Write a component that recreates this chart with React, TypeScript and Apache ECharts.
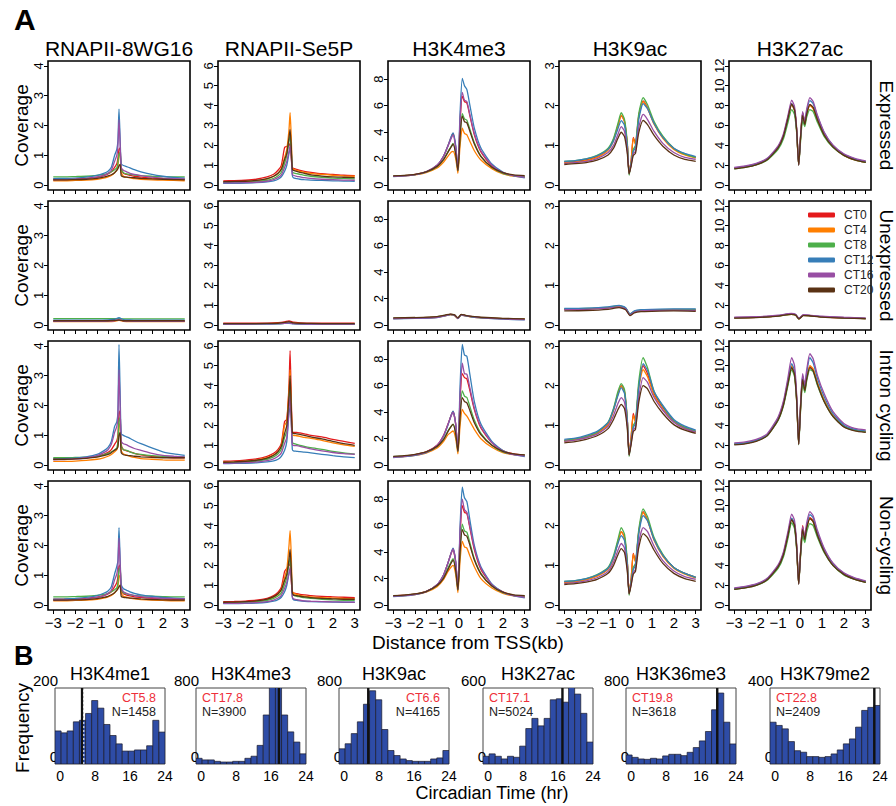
import React, { useEffect, useRef } from 'react';
import * as echarts from 'echarts';

// ---------------- Panel A data ----------------
const CT_NAMES = ['CT0', 'CT4', 'CT8', 'CT12', 'CT16', 'CT20'];
const CT_COLORS = ['#E41A1C', '#FF7F00', '#4DAF4A', '#377EB8', '#984EA3', '#5A3214'];
const MARKS = ['RNAPII-8WG16', 'RNAPII-Se5P', 'H3K4me3', 'H3K9ac', 'H3K27ac'];
const GROUPS = ['Expressed', 'Unexpressed', 'Intron cycling', 'Non-cycling'];
const Y_MAX = [4, 6, 9, 3, 12];
const Y_TICKS = [[0, 1, 2, 3, 4], [0, 1, 2, 3, 4, 5, 6], [0, 2, 4, 6, 8], [0, 1, 2, 3], [0, 2, 4, 6, 8, 10, 12]];
const X_TICKS = [-3, -2.5, -2, -1.5, -1, -0.5, 0, 0.5, 1, 1.5, 2, 2.5, 3];
const X_LABELS = [-3, -2, -1, 0, 1, 2, 3];

// distance from TSS (kb) sample positions
const X_8WG16 = [-3, -2.5, -2, -1.5, -1, -0.7, -0.5, -0.35, -0.2, -0.1, -0.05, 0, 0.05, 0.1, 0.2, 0.35, 0.5, 0.7, 1, 1.5, 2, 2.5, 3];
const X_SE5P = [-3, -2.5, -2, -1.5, -1, -0.7, -0.5, -0.35, -0.2, -0.1, 0, 0.05, 0.1, 0.15, 0.2, 0.35, 0.5, 0.7, 1, 1.5, 2, 2.5, 3];
const X_K4ME3 = [-3, -2.5, -2, -1.5, -1, -0.7, -0.5, -0.35, -0.27, -0.15, -0.05, 0.05, 0.15, 0.25, 0.36, 0.5, 0.7, 1, 1.5, 2, 2.5, 3];
const X_K9AC = [-3, -2.5, -2, -1.5, -1, -0.75, -0.55, -0.4, -0.25, -0.12, -0.04, 0.05, 0.15, 0.25, 0.4, 0.6, 0.8, 1.1, 1.5, 2, 2.5, 3];
const X_K27AC = [-3, -2.5, -2, -1.5, -1, -0.75, -0.55, -0.38, -0.25, -0.15, -0.06, 0.03, 0.12, 0.22, 0.3, 0.45, 0.6, 0.8, 1.1, 1.5, 2, 2.5, 3];
const X_FLAT = [-3, -2, -1, -0.5, -0.2, 0, 0.2, 0.5, 1, 2, 3];
const X_K4ME3_FLAT = [-3, -2, -1, -0.6, -0.4, -0.2, -0.05, 0.1, 0.3, 0.6, 1, 2, 3];
const X_K27AC_FLAT = [-3, -2, -1, -0.4, -0.2, -0.05, 0.15, 0.4, 1, 2, 3];

// RNAPII-8WG16
const W8_EXPRESSED = [
  [0.2, 0.2, 0.21, 0.23, 0.27, 0.32, 0.38, 0.45, 0.6, 0.72, 0.9, 1.2, 1.25, 0.6, 0.4, 0.36, 0.33, 0.3, 0.27, 0.24, 0.22, 0.21, 0.2],
  [0.15, 0.15, 0.16, 0.17, 0.2, 0.24, 0.28, 0.33, 0.42, 0.5, 0.65, 1.0, 1.05, 0.45, 0.3, 0.27, 0.25, 0.22, 0.2, 0.18, 0.17, 0.16, 0.15],
  [0.28, 0.28, 0.29, 0.3, 0.33, 0.36, 0.4, 0.45, 0.52, 0.58, 0.75, 1.05, 1.1, 0.55, 0.42, 0.38, 0.36, 0.34, 0.32, 0.3, 0.29, 0.28, 0.28],
  [0.22, 0.23, 0.24, 0.27, 0.33, 0.4, 0.47, 0.6, 1.0, 1.2, 1.5, 2.55, 1.6, 0.72, 0.66, 0.62, 0.58, 0.52, 0.45, 0.36, 0.3, 0.26, 0.24],
  [0.18, 0.19, 0.2, 0.22, 0.27, 0.33, 0.4, 0.5, 0.8, 1.0, 1.3, 2.2, 1.4, 0.6, 0.5, 0.45, 0.4, 0.36, 0.32, 0.27, 0.24, 0.22, 0.2],
  [0.18, 0.18, 0.19, 0.2, 0.23, 0.27, 0.31, 0.35, 0.42, 0.5, 0.55, 0.65, 0.7, 0.32, 0.28, 0.27, 0.26, 0.25, 0.23, 0.21, 0.2, 0.19, 0.18],
];
const W8_UNEXPRESSED = [
  [0.14, 0.14, 0.14, 0.15, 0.16, 0.18, 0.15, 0.14, 0.14, 0.14, 0.14],
  [0.12, 0.12, 0.12, 0.12, 0.13, 0.16, 0.13, 0.12, 0.12, 0.12, 0.12],
  [0.22, 0.22, 0.22, 0.22, 0.22, 0.22, 0.21, 0.21, 0.21, 0.21, 0.21],
  [0.17, 0.17, 0.17, 0.18, 0.2, 0.25, 0.19, 0.18, 0.17, 0.17, 0.17],
  [0.13, 0.13, 0.13, 0.14, 0.15, 0.18, 0.15, 0.14, 0.13, 0.13, 0.13],
  [0.15, 0.15, 0.15, 0.15, 0.16, 0.17, 0.15, 0.15, 0.15, 0.15, 0.15],
];
const W8_INTRON = [
  [0.2, 0.2, 0.22, 0.25, 0.3, 0.36, 0.43, 0.52, 0.7, 0.82, 1.0, 1.75, 1.82, 0.7, 0.52, 0.48, 0.45, 0.4, 0.35, 0.3, 0.27, 0.25, 0.25],
  [0.13, 0.13, 0.14, 0.16, 0.2, 0.25, 0.3, 0.36, 0.45, 0.52, 0.65, 1.3, 1.4, 0.5, 0.38, 0.34, 0.3, 0.26, 0.22, 0.2, 0.18, 0.17, 0.17],
  [0.25, 0.25, 0.26, 0.27, 0.3, 0.35, 0.4, 0.45, 0.52, 0.58, 0.8, 1.5, 1.6, 0.65, 0.52, 0.5, 0.45, 0.4, 0.36, 0.32, 0.3, 0.28, 0.28],
  [0.2, 0.22, 0.24, 0.28, 0.36, 0.48, 0.6, 0.8, 1.3, 1.45, 1.8, 4.05, 2.5, 1.05, 1.0, 0.95, 0.9, 0.82, 0.72, 0.58, 0.45, 0.38, 0.33],
  [0.18, 0.19, 0.21, 0.25, 0.32, 0.42, 0.52, 0.7, 1.1, 1.3, 1.6, 3.2, 2.0, 0.8, 0.72, 0.68, 0.62, 0.56, 0.5, 0.4, 0.33, 0.3, 0.28],
  [0.2, 0.2, 0.21, 0.23, 0.27, 0.32, 0.36, 0.42, 0.5, 0.55, 0.62, 1.0, 1.1, 0.42, 0.35, 0.33, 0.32, 0.3, 0.28, 0.26, 0.25, 0.25, 0.25],
];
const W8_NONCYC = [
  [0.2, 0.2, 0.21, 0.23, 0.27, 0.32, 0.38, 0.45, 0.62, 0.75, 0.95, 1.3, 1.35, 0.55, 0.38, 0.34, 0.31, 0.28, 0.26, 0.23, 0.21, 0.2, 0.2],
  [0.15, 0.15, 0.16, 0.17, 0.2, 0.24, 0.28, 0.33, 0.42, 0.5, 0.62, 0.95, 1.0, 0.42, 0.3, 0.27, 0.24, 0.21, 0.19, 0.17, 0.16, 0.15, 0.15],
  [0.28, 0.28, 0.29, 0.3, 0.33, 0.36, 0.4, 0.45, 0.52, 0.58, 0.75, 1.2, 1.26, 0.55, 0.42, 0.38, 0.35, 0.33, 0.31, 0.3, 0.29, 0.28, 0.28],
  [0.2, 0.21, 0.23, 0.26, 0.32, 0.4, 0.48, 0.62, 1.05, 1.3, 1.5, 2.6, 1.6, 0.7, 0.55, 0.5, 0.45, 0.4, 0.35, 0.3, 0.26, 0.24, 0.22],
  [0.17, 0.18, 0.19, 0.21, 0.26, 0.32, 0.4, 0.5, 0.85, 1.05, 1.3, 2.25, 1.4, 0.6, 0.45, 0.4, 0.36, 0.32, 0.29, 0.25, 0.23, 0.22, 0.21],
  [0.17, 0.17, 0.18, 0.19, 0.22, 0.26, 0.3, 0.35, 0.42, 0.5, 0.55, 0.62, 0.67, 0.3, 0.26, 0.25, 0.24, 0.23, 0.21, 0.19, 0.18, 0.17, 0.17],
];

// RNAPII-Se5P
const S5_EXPRESSED = [
  [0.22, 0.23, 0.25, 0.3, 0.42, 0.55, 0.75, 1.0, 1.9, 1.95, 2.0, 2.1, 1.4, 0.9, 0.85, 0.8, 0.75, 0.7, 0.65, 0.58, 0.54, 0.5, 0.48],
  [0.15, 0.16, 0.18, 0.22, 0.32, 0.45, 0.6, 0.85, 1.4, 1.8, 2.8, 3.65, 2.5, 0.9, 0.8, 0.75, 0.7, 0.65, 0.6, 0.54, 0.5, 0.47, 0.45],
  [0.13, 0.14, 0.15, 0.18, 0.25, 0.35, 0.48, 0.65, 1.1, 1.5, 2.2, 2.5, 1.7, 0.7, 0.62, 0.58, 0.55, 0.5, 0.45, 0.4, 0.36, 0.34, 0.32],
  [0.1, 0.1, 0.11, 0.13, 0.17, 0.22, 0.3, 0.42, 0.7, 1.0, 1.6, 1.8, 1.8, 0.5, 0.38, 0.33, 0.3, 0.28, 0.26, 0.24, 0.22, 0.21, 0.2],
  [0.12, 0.12, 0.13, 0.15, 0.2, 0.28, 0.38, 0.52, 0.9, 1.2, 1.7, 2.0, 1.5, 0.55, 0.5, 0.45, 0.42, 0.38, 0.34, 0.3, 0.28, 0.26, 0.25],
  [0.18, 0.19, 0.2, 0.24, 0.33, 0.45, 0.6, 0.8, 1.3, 1.6, 2.4, 2.8, 2.0, 0.8, 0.75, 0.7, 0.65, 0.6, 0.52, 0.46, 0.42, 0.4, 0.38],
];
const S5_UNEXPRESSED = [
  [0.1, 0.1, 0.11, 0.13, 0.17, 0.22, 0.15, 0.12, 0.1, 0.1, 0.1],
  [0.07, 0.07, 0.08, 0.09, 0.11, 0.14, 0.1, 0.08, 0.07, 0.07, 0.07],
  [0.06, 0.06, 0.07, 0.08, 0.1, 0.12, 0.09, 0.07, 0.06, 0.06, 0.06],
  [0.05, 0.05, 0.06, 0.07, 0.09, 0.1, 0.07, 0.06, 0.05, 0.05, 0.05],
  [0.06, 0.06, 0.07, 0.08, 0.1, 0.12, 0.08, 0.07, 0.06, 0.06, 0.06],
  [0.08, 0.08, 0.09, 0.1, 0.14, 0.18, 0.12, 0.1, 0.09, 0.08, 0.08],
];
const S5_INTRON = [
  [0.2, 0.22, 0.26, 0.32, 0.45, 0.6, 0.8, 1.1, 2.2, 2.3, 4.0, 5.75, 3.5, 1.7, 1.65, 1.65, 1.62, 1.58, 1.5, 1.42, 1.3, 1.2, 1.1],
  [0.15, 0.17, 0.2, 0.26, 0.38, 0.52, 0.7, 1.0, 2.0, 2.2, 3.8, 4.8, 3.0, 1.55, 1.5, 1.48, 1.45, 1.4, 1.35, 1.25, 1.12, 1.02, 0.95],
  [0.12, 0.14, 0.16, 0.2, 0.3, 0.42, 0.58, 0.8, 1.4, 1.7, 3.2, 4.0, 2.5, 1.15, 1.1, 1.05, 1.0, 0.95, 0.88, 0.8, 0.7, 0.62, 0.56],
  [0.08, 0.09, 0.1, 0.12, 0.17, 0.22, 0.3, 0.45, 0.75, 1.2, 2.6, 2.9, 2.6, 0.8, 0.72, 0.7, 0.68, 0.66, 0.62, 0.55, 0.48, 0.42, 0.38],
  [0.1, 0.11, 0.13, 0.16, 0.23, 0.32, 0.45, 0.62, 1.1, 1.4, 2.8, 3.5, 2.2, 1.05, 1.0, 0.98, 0.95, 0.9, 0.82, 0.72, 0.64, 0.58, 0.55],
  [0.15, 0.17, 0.2, 0.25, 0.36, 0.5, 0.68, 0.95, 1.6, 2.0, 3.5, 4.5, 3.0, 1.65, 1.6, 1.58, 1.55, 1.5, 1.42, 1.32, 1.2, 1.08, 1.0],
];
const S5_NONCYC = [
  [0.18, 0.19, 0.21, 0.25, 0.35, 0.48, 0.65, 0.9, 1.7, 1.85, 2.0, 2.1, 1.3, 0.7, 0.62, 0.58, 0.55, 0.52, 0.48, 0.44, 0.42, 0.4, 0.38],
  [0.12, 0.13, 0.15, 0.19, 0.28, 0.4, 0.55, 0.8, 1.4, 1.8, 3.0, 3.75, 2.6, 0.75, 0.6, 0.55, 0.5, 0.46, 0.42, 0.38, 0.36, 0.34, 0.33],
  [0.12, 0.13, 0.14, 0.17, 0.24, 0.34, 0.46, 0.62, 1.05, 1.4, 2.1, 2.4, 1.6, 0.6, 0.5, 0.45, 0.42, 0.38, 0.34, 0.3, 0.27, 0.25, 0.24],
  [0.08, 0.08, 0.09, 0.11, 0.15, 0.2, 0.28, 0.4, 0.68, 1.0, 1.6, 1.8, 1.75, 0.4, 0.28, 0.24, 0.22, 0.2, 0.18, 0.17, 0.16, 0.15, 0.15],
  [0.1, 0.1, 0.11, 0.13, 0.18, 0.26, 0.36, 0.5, 0.85, 1.15, 1.6, 1.9, 1.4, 0.45, 0.32, 0.28, 0.25, 0.22, 0.2, 0.18, 0.17, 0.16, 0.15],
  [0.15, 0.16, 0.18, 0.22, 0.31, 0.43, 0.58, 0.78, 1.25, 1.55, 2.3, 2.8, 1.9, 0.65, 0.52, 0.48, 0.45, 0.42, 0.38, 0.34, 0.32, 0.3, 0.3],
];

// H3K4me3
const K4_EXPRESSED = [
  [0.68, 0.72, 0.82, 1.0, 1.5, 2.2, 3.0, 3.65, 3.9, 2.9, 1.2, 4.8, 6.7, 6.3, 6.2, 5.2, 3.8, 2.5, 1.45, 0.95, 0.72, 0.62],
  [0.66, 0.7, 0.78, 0.95, 1.3, 1.75, 2.2, 2.5, 2.55, 2.0, 0.9, 3.0, 4.3, 3.9, 3.8, 3.3, 2.6, 1.9, 1.25, 0.85, 0.68, 0.6],
  [0.68, 0.72, 0.8, 0.98, 1.4, 1.95, 2.55, 2.95, 3.15, 2.4, 1.1, 3.8, 5.4, 5.0, 4.9, 4.2, 3.2, 2.2, 1.35, 0.9, 0.72, 0.65],
  [0.65, 0.7, 0.8, 1.0, 1.5, 2.2, 3.0, 3.7, 3.95, 3.0, 1.2, 5.5, 8.05, 7.5, 7.2, 6.0, 4.3, 2.8, 1.6, 1.0, 0.7, 0.55],
  [0.66, 0.7, 0.8, 1.0, 1.5, 2.2, 2.95, 3.55, 3.75, 2.8, 1.15, 5.0, 7.0, 6.4, 6.3, 5.3, 3.9, 2.6, 1.5, 0.95, 0.72, 0.6],
  [0.7, 0.74, 0.82, 1.0, 1.42, 1.95, 2.5, 2.9, 3.1, 2.35, 1.1, 3.7, 5.2, 4.8, 4.7, 4.05, 3.1, 2.15, 1.35, 0.95, 0.78, 0.72],
];
const K4_UNEXPRESSED = [
  [0.52, 0.55, 0.62, 0.75, 0.82, 0.75, 0.52, 0.8, 0.72, 0.65, 0.58, 0.5, 0.46],
  [0.5, 0.53, 0.6, 0.72, 0.78, 0.72, 0.5, 0.76, 0.7, 0.62, 0.56, 0.49, 0.45],
  [0.53, 0.56, 0.63, 0.76, 0.82, 0.76, 0.53, 0.8, 0.73, 0.65, 0.58, 0.5, 0.46],
  [0.48, 0.51, 0.58, 0.72, 0.8, 0.74, 0.5, 0.78, 0.7, 0.62, 0.55, 0.46, 0.4],
  [0.5, 0.53, 0.6, 0.74, 0.82, 0.76, 0.52, 0.8, 0.72, 0.64, 0.57, 0.48, 0.42],
  [0.55, 0.58, 0.65, 0.78, 0.84, 0.78, 0.55, 0.82, 0.75, 0.67, 0.6, 0.52, 0.48],
];
const K4_INTRON = [
  [0.62, 0.68, 0.8, 1.0, 1.5, 2.25, 3.1, 3.8, 4.05, 3.1, 1.1, 5.0, 6.9, 6.6, 6.5, 5.6, 4.2, 2.8, 1.7, 1.1, 0.85, 0.75],
  [0.6, 0.65, 0.75, 0.92, 1.3, 1.8, 2.3, 2.5, 2.58, 2.0, 0.85, 3.0, 4.2, 3.9, 3.7, 3.3, 2.7, 2.0, 1.35, 0.95, 0.8, 0.72],
  [0.64, 0.7, 0.8, 0.98, 1.42, 1.95, 2.6, 2.95, 3.1, 2.4, 1.05, 4.0, 5.6, 5.2, 5.1, 4.4, 3.4, 2.4, 1.5, 1.0, 0.82, 0.75],
  [0.58, 0.64, 0.75, 0.95, 1.45, 2.2, 3.05, 3.8, 4.08, 3.1, 1.15, 6.0, 9.1, 8.3, 8.2, 6.8, 4.8, 3.1, 1.8, 1.1, 0.8, 0.65],
  [0.6, 0.66, 0.78, 0.98, 1.5, 2.25, 3.1, 3.75, 4.0, 3.05, 1.1, 5.3, 7.7, 6.9, 6.85, 5.8, 4.3, 2.9, 1.7, 1.05, 0.8, 0.7],
  [0.66, 0.72, 0.82, 1.0, 1.42, 1.95, 2.55, 2.95, 3.08, 2.35, 1.05, 3.7, 5.1, 4.8, 4.7, 4.1, 3.2, 2.3, 1.5, 1.05, 0.85, 0.78],
];
const K4_NONCYC = [
  [0.7, 0.75, 0.85, 1.05, 1.55, 2.3, 3.2, 3.95, 4.2, 3.2, 1.2, 5.3, 7.5, 7.0, 6.9, 5.8, 4.2, 2.7, 1.55, 1.0, 0.75, 0.65],
  [0.68, 0.72, 0.8, 0.98, 1.4, 1.95, 2.55, 2.9, 3.0, 2.3, 0.95, 3.4, 4.8, 4.4, 4.3, 3.7, 2.9, 2.0, 1.3, 0.9, 0.7, 0.62],
  [0.7, 0.74, 0.83, 1.02, 1.48, 2.1, 2.8, 3.3, 3.5, 2.7, 1.15, 4.3, 6.1, 5.6, 5.5, 4.7, 3.5, 2.4, 1.45, 0.95, 0.75, 0.68],
  [0.65, 0.7, 0.8, 1.02, 1.55, 2.3, 3.2, 4.0, 4.3, 3.3, 1.25, 6.0, 8.9, 8.1, 7.8, 6.4, 4.5, 2.9, 1.6, 1.0, 0.7, 0.55],
  [0.68, 0.72, 0.82, 1.03, 1.55, 2.3, 3.2, 3.95, 4.25, 3.25, 1.2, 5.6, 8.0, 7.2, 7.0, 5.9, 4.3, 2.8, 1.55, 0.98, 0.72, 0.6],
  [0.72, 0.76, 0.85, 1.03, 1.48, 2.05, 2.7, 3.2, 3.4, 2.6, 1.15, 4.1, 5.7, 5.3, 5.2, 4.5, 3.4, 2.35, 1.45, 0.98, 0.78, 0.72],
];

// H3K9ac
const K9_EXPRESSED = [
  [0.58, 0.6, 0.64, 0.72, 0.9, 1.15, 1.5, 1.75, 1.6, 1.0, 0.3, 0.6, 1.2, 1.05, 1.75, 2.12, 1.95, 1.55, 1.2, 0.92, 0.78, 0.7],
  [0.56, 0.58, 0.62, 0.7, 0.88, 1.12, 1.48, 1.76, 1.6, 1.0, 0.3, 0.6, 1.18, 1.02, 1.72, 2.1, 1.93, 1.53, 1.18, 0.9, 0.76, 0.68],
  [0.6, 0.62, 0.66, 0.75, 0.93, 1.18, 1.55, 1.82, 1.65, 1.05, 0.25, 0.55, 0.9, 1.0, 1.8, 2.2, 2.02, 1.6, 1.23, 0.93, 0.78, 0.7],
  [0.6, 0.62, 0.66, 0.74, 0.9, 1.12, 1.42, 1.62, 1.5, 0.95, 0.3, 0.55, 0.85, 0.95, 1.65, 2.05, 1.92, 1.55, 1.2, 0.93, 0.8, 0.72],
  [0.55, 0.57, 0.6, 0.67, 0.82, 1.0, 1.28, 1.47, 1.35, 0.85, 0.3, 0.5, 0.8, 0.85, 1.45, 1.78, 1.65, 1.35, 1.05, 0.82, 0.7, 0.65],
  [0.52, 0.54, 0.57, 0.63, 0.76, 0.93, 1.18, 1.33, 1.22, 0.78, 0.28, 0.48, 0.75, 0.8, 1.32, 1.63, 1.52, 1.25, 0.98, 0.76, 0.65, 0.6],
];
const K9_UNEXPRESSED = [
  [0.4, 0.41, 0.44, 0.47, 0.42, 0.27, 0.34, 0.37, 0.38, 0.39, 0.38],
  [0.4, 0.41, 0.44, 0.47, 0.42, 0.27, 0.34, 0.37, 0.38, 0.39, 0.38],
  [0.41, 0.42, 0.45, 0.49, 0.43, 0.28, 0.35, 0.38, 0.39, 0.4, 0.4],
  [0.42, 0.43, 0.46, 0.5, 0.44, 0.28, 0.36, 0.39, 0.4, 0.41, 0.41],
  [0.39, 0.4, 0.43, 0.46, 0.41, 0.26, 0.33, 0.36, 0.37, 0.38, 0.37],
  [0.36, 0.37, 0.4, 0.44, 0.39, 0.24, 0.31, 0.34, 0.35, 0.36, 0.35],
];
const K9_INTRON = [
  [0.62, 0.66, 0.72, 0.82, 1.05, 1.4, 1.8, 2.0, 1.85, 1.1, 0.27, 0.7, 1.3, 1.1, 2.0, 2.5, 2.3, 1.8, 1.45, 1.12, 0.95, 0.85],
  [0.6, 0.64, 0.7, 0.8, 1.02, 1.38, 1.78, 1.98, 1.83, 1.1, 0.27, 0.7, 1.25, 1.08, 1.95, 2.4, 2.22, 1.75, 1.4, 1.1, 0.92, 0.83],
  [0.62, 0.66, 0.72, 0.83, 1.08, 1.43, 1.85, 2.05, 1.9, 1.15, 0.22, 0.6, 1.0, 1.1, 2.1, 2.7, 2.45, 1.85, 1.48, 1.12, 0.95, 0.85],
  [0.65, 0.68, 0.75, 0.85, 1.07, 1.4, 1.75, 1.95, 1.8, 1.1, 0.27, 0.6, 0.95, 1.05, 1.95, 2.55, 2.38, 1.85, 1.5, 1.15, 0.98, 0.88],
  [0.6, 0.63, 0.69, 0.78, 0.98, 1.25, 1.55, 1.7, 1.58, 0.98, 0.27, 0.55, 0.9, 0.95, 1.7, 2.2, 2.08, 1.7, 1.38, 1.08, 0.92, 0.83],
  [0.56, 0.59, 0.65, 0.74, 0.92, 1.15, 1.4, 1.53, 1.42, 0.9, 0.25, 0.52, 0.85, 0.9, 1.58, 2.0, 1.92, 1.6, 1.3, 1.02, 0.88, 0.8],
];
const K9_NONCYC = [
  [0.58, 0.6, 0.65, 0.74, 0.92, 1.2, 1.6, 1.85, 1.7, 1.05, 0.3, 0.65, 1.3, 1.1, 1.85, 2.35, 2.15, 1.65, 1.25, 0.95, 0.8, 0.7],
  [0.57, 0.59, 0.64, 0.73, 0.9, 1.18, 1.58, 1.85, 1.7, 1.05, 0.3, 0.65, 1.28, 1.08, 1.82, 2.33, 2.13, 1.63, 1.23, 0.93, 0.78, 0.68],
  [0.6, 0.62, 0.67, 0.77, 0.95, 1.25, 1.65, 1.95, 1.78, 1.1, 0.25, 0.6, 0.95, 1.05, 1.9, 2.42, 2.22, 1.7, 1.28, 0.95, 0.8, 0.7],
  [0.6, 0.62, 0.67, 0.76, 0.93, 1.2, 1.55, 1.75, 1.62, 1.0, 0.3, 0.58, 0.9, 1.0, 1.8, 2.25, 2.12, 1.65, 1.25, 0.95, 0.8, 0.7],
  [0.55, 0.57, 0.61, 0.69, 0.85, 1.08, 1.38, 1.55, 1.43, 0.9, 0.3, 0.52, 0.82, 0.9, 1.58, 1.95, 1.85, 1.48, 1.12, 0.86, 0.72, 0.65],
  [0.52, 0.54, 0.58, 0.65, 0.8, 1.0, 1.27, 1.42, 1.32, 0.83, 0.28, 0.5, 0.78, 0.85, 1.45, 1.8, 1.7, 1.38, 1.05, 0.8, 0.67, 0.6],
];

// H3K27ac
const K27_EXPRESSED = [
  [1.7, 1.85, 2.1, 2.6, 3.8, 5.0, 6.8, 8.2, 7.6, 5.5, 2.05, 5.0, 7.3, 6.3, 7.2, 8.1, 7.8, 6.6, 5.1, 3.9, 3.05, 2.6, 2.35],
  [1.7, 1.85, 2.1, 2.6, 3.8, 5.0, 6.7, 8.1, 7.5, 5.4, 2.05, 4.9, 7.2, 6.2, 7.1, 8.0, 7.7, 6.5, 5.0, 3.85, 3.0, 2.55, 2.3],
  [1.65, 1.8, 2.05, 2.5, 3.6, 4.7, 6.3, 7.6, 7.1, 5.2, 2.0, 4.5, 6.5, 5.9, 6.8, 7.6, 7.4, 6.3, 4.9, 3.8, 3.0, 2.55, 2.3],
  [1.75, 1.9, 2.15, 2.65, 3.85, 5.05, 6.8, 8.2, 7.6, 5.5, 2.1, 5.0, 7.2, 6.3, 7.4, 8.5, 8.2, 6.9, 5.3, 4.0, 3.1, 2.65, 2.4],
  [1.78, 1.93, 2.2, 2.7, 3.95, 5.2, 7.0, 8.55, 7.9, 5.7, 2.0, 5.1, 7.4, 6.4, 7.6, 8.8, 8.4, 7.0, 5.35, 4.05, 3.15, 2.7, 2.45],
  [1.65, 1.8, 2.05, 2.55, 3.75, 4.95, 6.7, 8.15, 7.55, 5.45, 2.05, 4.9, 7.0, 6.1, 7.1, 8.1, 7.8, 6.55, 5.05, 3.85, 3.0, 2.55, 2.3],
];
const K27_UNEXPRESSED = [
  [0.75, 0.8, 0.95, 1.12, 1.05, 0.65, 1.0, 0.98, 0.85, 0.75, 0.68],
  [0.74, 0.79, 0.94, 1.1, 1.04, 0.64, 0.99, 0.97, 0.84, 0.74, 0.67],
  [0.73, 0.78, 0.93, 1.09, 1.03, 0.64, 0.98, 0.96, 0.83, 0.74, 0.67],
  [0.76, 0.81, 0.96, 1.13, 1.06, 0.66, 1.01, 0.99, 0.86, 0.76, 0.69],
  [0.8, 0.85, 1.0, 1.18, 1.1, 0.7, 1.05, 1.02, 0.9, 0.8, 0.72],
  [0.72, 0.77, 0.92, 1.08, 1.02, 0.62, 0.97, 0.95, 0.82, 0.72, 0.65],
];
const K27_INTRON = [
  [2.1, 2.2, 2.45, 3.0, 4.6, 6.2, 8.3, 9.9, 9.2, 6.5, 2.15, 6.0, 8.8, 7.6, 8.7, 9.9, 9.6, 8.2, 6.5, 5.0, 3.9, 3.5, 3.35],
  [2.15, 2.25, 2.5, 3.05, 4.7, 6.3, 8.4, 10.0, 9.3, 6.6, 2.15, 6.1, 8.9, 7.7, 8.8, 10.0, 9.7, 8.3, 6.6, 5.0, 3.95, 3.55, 3.4],
  [2.1, 2.2, 2.45, 2.95, 4.5, 6.0, 8.0, 9.6, 8.9, 6.3, 2.05, 5.6, 8.2, 7.3, 8.4, 9.6, 9.4, 8.0, 6.4, 4.9, 3.9, 3.5, 3.35],
  [2.15, 2.25, 2.5, 3.05, 4.7, 6.3, 8.5, 10.2, 9.5, 6.7, 2.2, 6.2, 9.0, 7.9, 9.2, 10.8, 10.3, 8.7, 6.9, 5.2, 4.05, 3.6, 3.45],
  [2.25, 2.35, 2.6, 3.15, 4.85, 6.5, 8.8, 10.8, 10.0, 7.0, 2.1, 6.3, 9.2, 8.1, 9.5, 11.2, 10.7, 9.0, 7.2, 5.4, 4.2, 3.7, 3.55],
  [2.05, 2.15, 2.4, 2.95, 4.55, 6.1, 8.2, 9.8, 9.1, 6.4, 2.1, 5.9, 8.6, 7.5, 8.6, 9.8, 9.5, 8.1, 6.4, 4.9, 3.85, 3.45, 3.3],
];
const K27_NONCYC = [
  [1.65, 1.8, 2.05, 2.6, 3.9, 5.2, 7.1, 8.7, 8.1, 5.8, 2.15, 5.4, 8.0, 6.8, 7.8, 8.8, 8.5, 7.1, 5.5, 4.1, 3.15, 2.65, 2.35],
  [1.65, 1.8, 2.05, 2.6, 3.9, 5.15, 7.0, 8.65, 8.05, 5.75, 2.15, 5.3, 7.6, 6.6, 7.7, 8.7, 8.4, 7.0, 5.45, 4.05, 3.1, 2.62, 2.32],
  [1.6, 1.75, 2.0, 2.5, 3.7, 4.9, 6.7, 8.3, 7.7, 5.5, 2.1, 5.0, 7.0, 6.3, 7.3, 8.2, 8.0, 6.8, 5.3, 4.0, 3.05, 2.6, 2.3],
  [1.7, 1.85, 2.1, 2.65, 3.95, 5.25, 7.15, 8.75, 8.15, 5.85, 2.2, 5.4, 7.7, 6.7, 7.9, 9.1, 8.8, 7.3, 5.65, 4.2, 3.2, 2.7, 2.4],
  [1.75, 1.9, 2.15, 2.7, 4.05, 5.4, 7.4, 9.15, 8.5, 6.1, 2.1, 5.5, 7.9, 6.9, 8.2, 9.4, 9.0, 7.5, 5.75, 4.25, 3.25, 2.75, 2.45],
  [1.6, 1.75, 2.0, 2.55, 3.85, 5.1, 7.0, 8.6, 8.0, 5.7, 2.15, 5.3, 7.6, 6.6, 7.7, 8.7, 8.4, 7.0, 5.4, 4.0, 3.1, 2.6, 2.3],
];

// rows = gene groups, columns = marks
const PANELS = [
  [{ x: X_8WG16, y: W8_EXPRESSED }, { x: X_SE5P, y: S5_EXPRESSED }, { x: X_K4ME3, y: K4_EXPRESSED }, { x: X_K9AC, y: K9_EXPRESSED }, { x: X_K27AC, y: K27_EXPRESSED }],
  [{ x: X_FLAT, y: W8_UNEXPRESSED }, { x: X_FLAT, y: S5_UNEXPRESSED }, { x: X_K4ME3_FLAT, y: K4_UNEXPRESSED }, { x: X_FLAT, y: K9_UNEXPRESSED }, { x: X_K27AC_FLAT, y: K27_UNEXPRESSED }],
  [{ x: X_8WG16, y: W8_INTRON }, { x: X_SE5P, y: S5_INTRON }, { x: X_K4ME3, y: K4_INTRON }, { x: X_K9AC, y: K9_INTRON }, { x: X_K27AC, y: K27_INTRON }],
  [{ x: X_8WG16, y: W8_NONCYC }, { x: X_SE5P, y: S5_NONCYC }, { x: X_K4ME3, y: K4_NONCYC }, { x: X_K9AC, y: K9_NONCYC }, { x: X_K27AC, y: K27_NONCYC }],
];

// ---------------- Panel B data ----------------
const HIST_MARKS = ['H3K4me1', 'H3K4me3', 'H3K9ac', 'H3K27ac', 'H3K36me3', 'H3K79me2'];
const HIST_YMAX = [200, 800, 800, 600, 800, 400];
const HIST_PHASE = ['CT5.8', 'CT17.8', 'CT6.6', 'CT17.1', 'CT19.8', 'CT22.8'];
const HIST_N = [1458, 3900, 4165, 5024, 3618, 2409];
const HIST_LINE = [5.0, 17.8, 5.5, 17.0, 19.7, 22.7];
const HIST_X_TICKS = [0, 8, 16, 24];
const BIN_EDGES = [-1.2, 0.2, 1.6, 3.0, 4.4, 5.8, 7.2, 8.6, 10.0, 11.4, 12.8, 14.2, 15.6, 17.0, 18.4, 19.8, 21.2, 22.6, 24.0];
const H_K4ME1 = [87, 82, 87, 111, 115, 133, 167, 147, 104, 75, 53, 34, 34, 37, 37, 48, 115, 84];
const H_K4ME3 = [60, 43, 43, 28, 21, 21, 28, 28, 60, 82, 196, 516, 820, 820, 516, 338, 231, 107];
const H_K9AC = [160, 213, 320, 444, 629, 771, 676, 363, 142, 89, 53, 36, 28, 28, 28, 53, 64, 142];
const H_K27AC = [61, 80, 61, 40, 61, 53, 141, 280, 360, 301, 360, 507, 515, 488, 620, 552, 400, 173];
const H_K36ME3 = [95, 70, 53, 49, 60, 53, 85, 102, 102, 88, 123, 173, 243, 342, 571, 747, 440, 211];
const H_K79ME2 = [220, 203, 185, 118, 70, 62, 39, 39, 35, 39, 53, 74, 106, 132, 194, 282, 298, 308];
const HIST_COUNTS = [H_K4ME1, H_K4ME3, H_K9AC, H_K27AC, H_K36ME3, H_K79ME2];

// ---------------- layout ----------------
const FONT = '"Liberation Sans", Arial, Helvetica, sans-serif';
const COL_LEFT = [48, 218, 388, 559, 729];
const ROW_TOP = [61, 201, 341, 481];
const PW = 142;
const PH = 129;
const H_LEFT = [55, 196, 339, 483, 626, 770];
const H_TOP = 688;
const H_W = 110;
const H_H = 76;
const NOTE_RIGHT = [true, false, true, false, false, false];

const fmtMinus = (v: number) => (v < 0 ? '\u2212' + Math.abs(v) : String(v));

function buildOption() {
  const grid: any[] = [];
  const xAxis: any[] = [];
  const yAxis: any[] = [];
  const series: any[] = [];
  const graphic: any[] = [];
  let gi = 0;

  for (let r = 0; r < 4; r++) {
    for (let c = 0; c < 5; c++) {
      grid.push({
        left: COL_LEFT[c], top: ROW_TOP[r], width: PW, height: PH,
        show: true, borderColor: '#000', borderWidth: 1.6, backgroundColor: 'transparent',
      });
      xAxis.push({
        gridIndex: gi, type: 'value', min: -3.24, max: 3.24,
        axisLine: { show: false, onZero: false }, splitLine: { show: false },
        axisTick: { show: true, customValues: X_TICKS, length: 4, lineStyle: { color: '#000', width: 1 } },
        axisLabel: r === 3
          ? { show: true, customValues: X_LABELS, formatter: fmtMinus, fontSize: 15, color: '#000', fontFamily: FONT, margin: 5 }
          : { show: false },
      });
      const ym = Y_MAX[c];
      yAxis.push({
        gridIndex: gi, type: 'value', min: -0.04 * ym, max: 1.04 * ym,
        axisLine: { show: false, onZero: false }, splitLine: { show: false },
        axisTick: { show: true, customValues: Y_TICKS[c], length: 4, lineStyle: { color: '#000', width: 1 } },
        axisLabel: { show: true, customValues: Y_TICKS[c], rotate: 90, fontSize: 13, color: '#000', fontFamily: FONT, margin: 3 },
      });
      const panel = PANELS[r][c];
      panel.y.forEach((ys: number[], k: number) => {
        series.push({
          type: 'line', name: CT_NAMES[k], xAxisIndex: gi, yAxisIndex: gi,
          data: panel.x.map((x: number, i: number) => [x, ys[i]]),
          showSymbol: false, symbol: 'none', smooth: 0.2, silent: true,
          lineStyle: { width: 1.3, color: CT_COLORS[k] }, itemStyle: { color: CT_COLORS[k] },
          z: 2,
        });
      });
      gi++;
    }
  }

  // histograms
  for (let h = 0; h < 6; h++) {
    grid.push({
      left: H_LEFT[h], top: H_TOP, width: H_W, height: H_H,
      show: true, borderColor: '#444', borderWidth: 1, backgroundColor: 'transparent',
    });
    xAxis.push({
      gridIndex: gi, type: 'value', min: BIN_EDGES[0], max: BIN_EDGES[BIN_EDGES.length - 1],
      axisLine: { show: false, onZero: false }, splitLine: { show: false }, axisTick: { show: false },
      axisLabel: { show: true, customValues: HIST_X_TICKS, fontSize: 14, color: '#000', fontFamily: FONT, margin: 5 },
    });
    yAxis.push({
      gridIndex: gi, type: 'value', min: 0, max: HIST_YMAX[h],
      axisLine: { show: false, onZero: false }, splitLine: { show: false }, axisTick: { show: false },
      axisLabel: { show: true, customValues: [0, HIST_YMAX[h]], fontSize: 15, color: '#000', fontFamily: FONT, margin: -3, verticalAlign: 'bottom' },
    });
    const counts = HIST_COUNTS[h];
    series.push({
      type: 'custom', xAxisIndex: gi, yAxisIndex: gi, clip: true, silent: true,
      data: counts.map((v, i) => [BIN_EDGES[i], BIN_EDGES[i + 1], v]),
      encode: { x: [0, 1], y: 2 },
      renderItem: (params: any, api: any) => {
        const p0 = api.coord([api.value(0), api.value(2)]);
        const p1 = api.coord([api.value(1), 0]);
        return {
          type: 'rect',
          shape: { x: p0[0], y: p0[1], width: p1[0] - p0[0], height: p1[1] - p0[1] },
          style: { fill: '#2E4CA6', stroke: '#1a1a2a', lineWidth: 0.7 },
        };
      },
    });
    series.push({
      type: 'line', xAxisIndex: gi, yAxisIndex: gi, silent: true, symbol: 'none', showSymbol: false,
      data: [[HIST_LINE[h], 0], [HIST_LINE[h], HIST_YMAX[h]]],
      lineStyle: { color: '#111', width: 2.4 }, z: 5,
    });
    if (h === 0) {
      series.push({
        type: 'line', xAxisIndex: gi, yAxisIndex: gi, silent: true, symbol: 'none', showSymbol: false,
        data: [[HIST_LINE[h] + 0.4, 0], [HIST_LINE[h] + 0.4, HIST_YMAX[h]]],
        lineStyle: { color: '#fff', width: 1, type: [2, 2] }, z: 6,
      });
    }
    const right = NOTE_RIGHT[h];
    const nx = right ? H_LEFT[h] + H_W - 9 : H_LEFT[h] + 6;
    graphic.push({
      type: 'text', x: nx, y: H_TOP + 10,
      style: { text: HIST_PHASE[h], fill: '#EE2F3A', fontSize: 12.5, fontFamily: FONT, align: right ? 'right' : 'left', verticalAlign: 'middle' },
    });
    graphic.push({
      type: 'text', x: nx, y: H_TOP + 24,
      style: { text: 'N=' + HIST_N[h], fill: '#222', fontSize: 12.5, fontFamily: FONT, align: right ? 'right' : 'left', verticalAlign: 'middle' },
    });
    graphic.push({
      type: 'text', x: H_LEFT[h] + H_W / 2, y: 674,
      style: { text: HIST_MARKS[h], fill: '#000', fontSize: 18, fontFamily: FONT, align: 'center', verticalAlign: 'middle' },
    });
    gi++;
  }

  // panel A texts
  graphic.push({ type: 'text', x: 14, y: 19, style: { text: 'A', fill: '#000', fontSize: 30, fontWeight: 'bold', fontFamily: FONT, align: 'left', verticalAlign: 'middle' } });
  MARKS.forEach((m, c) => {
    graphic.push({ type: 'text', x: COL_LEFT[c] + PW / 2, y: 48, style: { text: m, fill: '#000', fontSize: 21, fontFamily: FONT, align: 'center', verticalAlign: 'middle' } });
  });
  GROUPS.forEach((g, r) => {
    graphic.push({ type: 'text', x: 21, y: ROW_TOP[r] + PH / 2, rotation: Math.PI / 2, style: { text: 'Coverage', fill: '#000', fontSize: 19, fontFamily: FONT, align: 'center', verticalAlign: 'middle' } });
    graphic.push({ type: 'text', x: 886, y: ROW_TOP[r] + PH / 2, rotation: -Math.PI / 2, style: { text: g, fill: '#000', fontSize: 19, fontFamily: FONT, align: 'center', verticalAlign: 'middle' } });
  });
  graphic.push({ type: 'text', x: 468, y: 642, style: { text: 'Distance from TSS(kb)', fill: '#000', fontSize: 19, fontFamily: FONT, align: 'center', verticalAlign: 'middle' } });
  // panel B texts
  graphic.push({ type: 'text', x: 14, y: 656, style: { text: 'B', fill: '#000', fontSize: 27, fontWeight: 'bold', fontFamily: FONT, align: 'left', verticalAlign: 'middle' } });
  graphic.push({ type: 'text', x: 22, y: 728, rotation: Math.PI / 2, style: { text: 'Frequency', fill: '#000', fontSize: 19, fontFamily: FONT, align: 'center', verticalAlign: 'middle' } });
  graphic.push({ type: 'text', x: 492, y: 793, style: { text: 'Circadian Time (hr)', fill: '#000', fontSize: 18, fontFamily: FONT, align: 'center', verticalAlign: 'middle' } });

  return {
    animation: false,
    backgroundColor: '#fff',
    grid, xAxis, yAxis, series, graphic,
    legend: {
      data: CT_NAMES, orient: 'vertical', left: 803, top: 203,
      itemWidth: 27, itemHeight: 5, itemGap: 1, icon: 'roundRect', selectedMode: false,
      textStyle: { fontSize: 12, color: '#222', fontFamily: FONT, lineHeight: 14, padding: [0, 0, 0, 4] },
    },
  };
}

export default function App() {
  const ref = useRef<HTMLDivElement>(null);
  useEffect(() => {
    document.body.style.margin = '0';
    if (!ref.current) return;
    const chart = echarts.init(ref.current, undefined, { renderer: 'svg' });
    chart.setOption(buildOption() as any);
    return () => chart.dispose();
  }, []);
  return <div ref={ref} style={{ width: 896, height: 806 }} />;
}
